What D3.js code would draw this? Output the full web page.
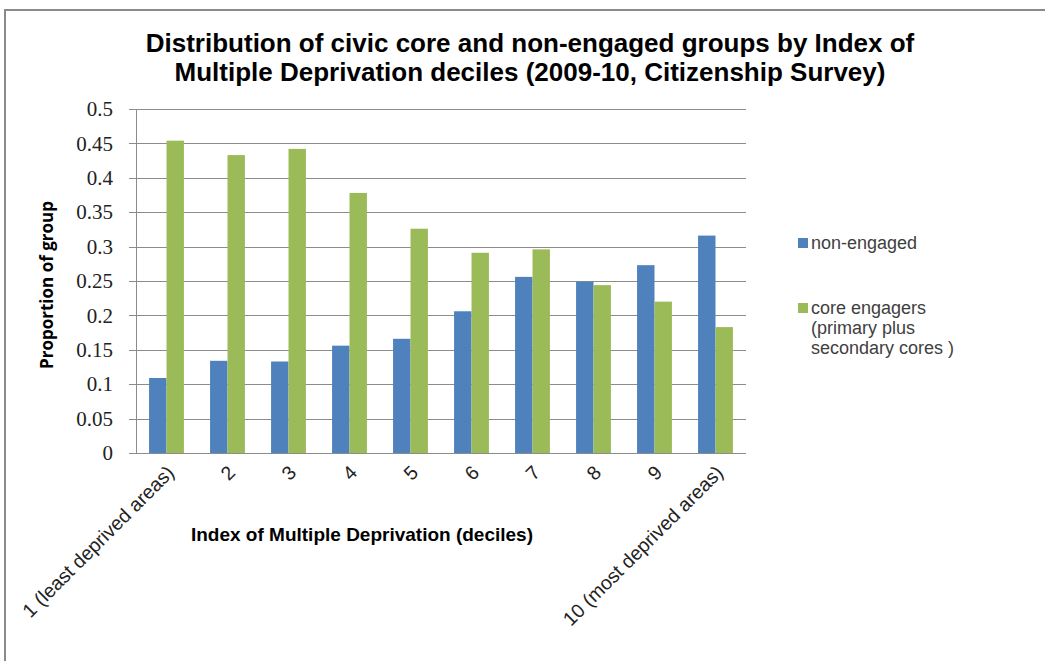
<!DOCTYPE html>
<html>
<head>
<meta charset="utf-8">
<script src="https://cdn.jsdelivr.net/npm/d3@7"></script>
<style>
  body { margin: 0; background: #fff; }
  svg { display: block; }
</style>
</head>
<body>
<svg></svg>
<script>
// chart data
const deciles = ["1 (least deprived areas)", "2", "3", "4", "5", "6", "7", "8", "9", "10 (most deprived areas)"];
const nonEngaged = [0.109, 0.134, 0.133, 0.156, 0.166, 0.206, 0.256, 0.249, 0.273, 0.316];
const coreEngagers = [0.454, 0.433, 0.442, 0.378, 0.326, 0.291, 0.296, 0.244, 0.220, 0.183];
const yTicks = [0, 0.05, 0.1, 0.15, 0.2, 0.25, 0.3, 0.35, 0.4, 0.45, 0.5];
const colors = ["#4f81bd", "#9bbb59"];

const width = 1045;
const height = 661;
const plot = { left: 136, right: 746, top: 109, bottom: 453 };

const svg = d3.select("svg")
    .attr("width", width)
    .attr("height", height);

// outer chart border (open on right/bottom like the crop)
svg.append("path")
    .attr("d", `M5,${height} V10 H${width}`)
    .attr("fill", "none")
    .attr("stroke", "#8a8a8a")
    .attr("stroke-width", 2);

const xScale = d3.scaleBand()
    .domain(deciles)
    .range([plot.left, plot.right]);

const yScale = d3.scaleLinear()
    .domain([0, 0.5])
    .range([plot.bottom, plot.top]);

// gridlines
svg.append("g")
    .selectAll("line")
    .data(yTicks)
    .enter()
    .append("line")
    .attr("x1", plot.left - 7)
    .attr("x2", plot.right)
    .attr("y1", d => Math.round(yScale(d)) + 0.5)
    .attr("y2", d => Math.round(yScale(d)) + 0.5)
    .attr("stroke", "#8c8c8c")
    .attr("stroke-width", 1);

// y-axis
const yAxis = d3.axisLeft(yScale)
    .tickValues(yTicks)
    .tickFormat(d => String(d))
    .tickSize(0)
    .tickPadding(23);

const yG = svg.append("g")
    .attr("transform", "translate(" + plot.left + ",0)")
    .call(yAxis);
yG.select(".domain").attr("stroke", "#8c8c8c");
yG.selectAll("text")
    .attr("font-family", "Liberation Serif, Times New Roman, serif")
    .attr("font-size", 21)
    .attr("fill", "#222");

// bars: group takes 2 bars, gap = 1.5 bar widths
const barW = xScale.bandwidth() / 3.5;
const series = [nonEngaged, coreEngagers];

series.forEach((vals, s) => {
    svg.append("g")
        .selectAll("rect")
        .data(vals)
        .enter()
        .append("rect")
        .attr("x", (d, i) => xScale(deciles[i]) + xScale.bandwidth() / 2 - barW + s * barW)
        .attr("y", d => yScale(d))
        .attr("width", barW)
        .attr("height", d => yScale(0) - yScale(d))
        .attr("fill", colors[s]);
});

// x-axis baseline
svg.append("line")
    .attr("x1", plot.left)
    .attr("x2", plot.right)
    .attr("y1", plot.bottom + 0.5)
    .attr("y2", plot.bottom + 0.5)
    .attr("stroke", "#8c8c8c");

// x tick labels, rotated
svg.append("g")
    .selectAll("text")
    .data(deciles)
    .enter()
    .append("text")
    .attr("transform", d => "translate(" + (xScale(d) + xScale.bandwidth() / 2 + 4) + "," + (plot.bottom + 16) + ") rotate(-45)")
    .attr("text-anchor", "end")
    .attr("dy", "0.35em")
    .attr("font-family", "Liberation Sans, Arial, sans-serif")
    .attr("font-size", 19.5)
    .attr("fill", "#222")
    .text(d => d);

// title
const title = svg.append("text")
    .attr("x", 530)
    .attr("text-anchor", "middle")
    .attr("font-family", "Liberation Sans, Arial, sans-serif")
    .attr("font-weight", "bold")
    .attr("font-size", 26)
    .attr("fill", "#000");
title.append("tspan").attr("x", 530).attr("y", 52)
    .text("Distribution of civic core and non-engaged groups by Index of");
title.append("tspan").attr("x", 530).attr("y", 81)
    .text("Multiple Deprivation deciles (2009-10, Citizenship Survey)");

// axis titles
svg.append("text")
    .attr("transform", "translate(53,285) rotate(-90)")
    .attr("text-anchor", "middle")
    .attr("font-family", "Open Sans, Liberation Sans, sans-serif")
    .attr("font-weight", "bold")
    .attr("font-size", 17)
    .attr("fill", "#000")
    .text("Proportion of group");

svg.append("text")
    .attr("x", 362)
    .attr("y", 541)
    .attr("text-anchor", "middle")
    .attr("font-family", "Liberation Sans, Arial, sans-serif")
    .attr("font-weight", "bold")
    .attr("font-size", 19)
    .attr("fill", "#000")
    .text("Index of Multiple Deprivation (deciles)");

// legend
const legendRows = [
    { y: 238, lines: ["non-engaged"] },
    { y: 303, lines: ["core engagers", "(primary plus", "secondary cores )"] }
];
legendRows.forEach((row, i) => {
    svg.append("rect")
        .attr("x", 798)
        .attr("y", row.y)
        .attr("width", 10)
        .attr("height", 10)
        .attr("fill", colors[i]);
    const t = svg.append("text")
        .attr("font-family", "Liberation Sans, Arial, sans-serif")
        .attr("font-size", 18)
        .attr("fill", "#404040");
    row.lines.forEach((ln, k) => {
        t.append("tspan")
            .attr("x", 811)
            .attr("y", row.y + 11 + k * 20)
            .text(ln);
    });
});
</script>
</body>
</html>
